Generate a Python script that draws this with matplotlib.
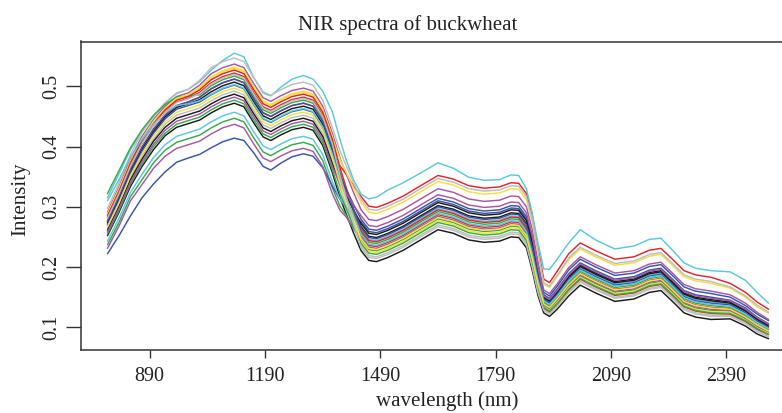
import matplotlib
matplotlib.use("Agg")
import matplotlib.pyplot as plt

plt.rcParams['font.family'] = ['Liberation Serif', 'DejaVu Serif']

wavelength = [780, 810, 840, 870, 900, 930, 960, 990, 1020, 1050, 1080, 1110, 1135, 1160, 1185,
              1205, 1230, 1260, 1290, 1315, 1340, 1365, 1385, 1400, 1420, 1440, 1460, 1480, 1510,
              1550, 1600, 1640, 1680, 1720, 1760, 1800, 1830, 1850, 1870, 1885, 1900, 1915, 1930,
              1950, 1980, 2010, 2050, 2100, 2150, 2190, 2220, 2250, 2280, 2310, 2350, 2400, 2440,
              2470, 2500]

s01 = [0.252, 0.291, 0.334, 0.367, 0.395, 0.418, 0.432, 0.438, 0.444, 0.456, 0.466, 0.472, 0.466, 0.440, 0.416,
       0.410, 0.419, 0.428, 0.432, 0.427, 0.402, 0.357, 0.315, 0.290, 0.257, 0.227, 0.211, 0.209, 0.216,
       0.228, 0.247, 0.262, 0.256, 0.245, 0.241, 0.243, 0.250, 0.249, 0.232, 0.195, 0.153, 0.124, 0.118,
       0.130, 0.152, 0.170, 0.157, 0.143, 0.147, 0.158, 0.161, 0.143, 0.124, 0.117, 0.113, 0.114, 0.102,
       0.089, 0.081]
s02 = [0.276, 0.317, 0.362, 0.399, 0.429, 0.452, 0.468, 0.474, 0.482, 0.496, 0.506, 0.512, 0.506, 0.480, 0.456,
       0.450, 0.459, 0.468, 0.472, 0.467, 0.442, 0.397, 0.368, 0.355, 0.335, 0.317, 0.301, 0.299, 0.306,
       0.318, 0.337, 0.352, 0.346, 0.335, 0.331, 0.333, 0.340, 0.339, 0.322, 0.285, 0.233, 0.180, 0.174,
       0.193, 0.222, 0.240, 0.227, 0.213, 0.217, 0.228, 0.231, 0.213, 0.194, 0.187, 0.183, 0.173, 0.158,
       0.142, 0.130]
s03 = [0.237, 0.274, 0.317, 0.345, 0.373, 0.394, 0.407, 0.413, 0.419, 0.431, 0.441, 0.447, 0.441, 0.415, 0.391,
       0.385, 0.394, 0.403, 0.407, 0.402, 0.377, 0.332, 0.301, 0.287, 0.264, 0.245, 0.229, 0.227, 0.234,
       0.246, 0.265, 0.280, 0.274, 0.263, 0.259, 0.261, 0.268, 0.267, 0.250, 0.213, 0.169, 0.136, 0.130,
       0.143, 0.167, 0.185, 0.172, 0.158, 0.162, 0.173, 0.176, 0.158, 0.139, 0.132, 0.128, 0.127, 0.114,
       0.101, 0.091]
s04 = [0.222, 0.252, 0.285, 0.315, 0.338, 0.358, 0.374, 0.381, 0.387, 0.398, 0.408, 0.414, 0.410, 0.390, 0.367,
       0.361, 0.372, 0.383, 0.388, 0.384, 0.365, 0.335, 0.312, 0.300, 0.285, 0.275, 0.259, 0.257, 0.264,
       0.276, 0.295, 0.310, 0.304, 0.293, 0.289, 0.291, 0.298, 0.297, 0.280, 0.243, 0.198, 0.158, 0.152,
       0.168, 0.195, 0.213, 0.200, 0.186, 0.190, 0.201, 0.204, 0.186, 0.167, 0.160, 0.156, 0.150, 0.136,
       0.122, 0.111]
s05 = [0.315, 0.355, 0.395, 0.425, 0.450, 0.472, 0.488, 0.495, 0.508, 0.527, 0.543, 0.555, 0.549, 0.515, 0.489,
       0.484, 0.498, 0.512, 0.518, 0.512, 0.492, 0.458, 0.412, 0.380, 0.345, 0.321, 0.313, 0.316, 0.328,
       0.340, 0.358, 0.373, 0.364, 0.349, 0.344, 0.345, 0.353, 0.352, 0.330, 0.290, 0.240, 0.197, 0.196,
       0.213, 0.240, 0.262, 0.245, 0.230, 0.235, 0.246, 0.248, 0.228, 0.207, 0.198, 0.194, 0.192, 0.178,
       0.158, 0.140]
s06 = [0.291, 0.333, 0.380, 0.417, 0.445, 0.467, 0.483, 0.489, 0.502, 0.521, 0.531, 0.537, 0.531, 0.505, 0.481,
       0.475, 0.484, 0.493, 0.497, 0.492, 0.467, 0.422, 0.381, 0.357, 0.324, 0.295, 0.279, 0.277, 0.284,
       0.296, 0.315, 0.330, 0.324, 0.313, 0.309, 0.311, 0.318, 0.317, 0.300, 0.263, 0.210, 0.162, 0.156,
       0.172, 0.199, 0.217, 0.204, 0.190, 0.194, 0.205, 0.208, 0.190, 0.171, 0.164, 0.160, 0.154, 0.140,
       0.125, 0.113]
s07 = [0.287, 0.328, 0.375, 0.412, 0.440, 0.463, 0.479, 0.485, 0.496, 0.514, 0.524, 0.530, 0.524, 0.498, 0.474,
       0.468, 0.477, 0.486, 0.490, 0.485, 0.460, 0.415, 0.379, 0.359, 0.332, 0.307, 0.291, 0.289, 0.296,
       0.308, 0.327, 0.342, 0.336, 0.325, 0.321, 0.323, 0.330, 0.329, 0.312, 0.275, 0.223, 0.172, 0.166,
       0.184, 0.212, 0.230, 0.217, 0.203, 0.207, 0.218, 0.221, 0.203, 0.184, 0.177, 0.173, 0.165, 0.150,
       0.134, 0.123]
s08 = [0.297, 0.339, 0.387, 0.424, 0.451, 0.473, 0.489, 0.495, 0.510, 0.531, 0.541, 0.547, 0.541, 0.515, 0.491,
       0.485, 0.494, 0.503, 0.507, 0.502, 0.477, 0.432, 0.393, 0.370, 0.340, 0.312, 0.296, 0.294, 0.301,
       0.313, 0.332, 0.347, 0.341, 0.330, 0.326, 0.328, 0.335, 0.334, 0.317, 0.280, 0.227, 0.174, 0.168,
       0.186, 0.215, 0.233, 0.220, 0.206, 0.210, 0.221, 0.224, 0.206, 0.187, 0.180, 0.176, 0.167, 0.152,
       0.137, 0.125]
s09 = [0.273, 0.313, 0.359, 0.396, 0.425, 0.449, 0.465, 0.471, 0.478, 0.491, 0.501, 0.507, 0.501, 0.475, 0.451,
       0.445, 0.454, 0.463, 0.467, 0.462, 0.437, 0.392, 0.351, 0.328, 0.296, 0.267, 0.251, 0.249, 0.256,
       0.268, 0.287, 0.302, 0.296, 0.285, 0.281, 0.283, 0.290, 0.289, 0.272, 0.235, 0.189, 0.150, 0.144,
       0.159, 0.185, 0.203, 0.190, 0.176, 0.180, 0.191, 0.194, 0.176, 0.157, 0.150, 0.146, 0.142, 0.128,
       0.114, 0.104]
s10 = [0.282, 0.323, 0.369, 0.406, 0.435, 0.458, 0.474, 0.480, 0.490, 0.506, 0.516, 0.522, 0.516, 0.490, 0.466,
       0.460, 0.469, 0.478, 0.482, 0.477, 0.452, 0.407, 0.359, 0.328, 0.288, 0.252, 0.236, 0.234, 0.241,
       0.253, 0.272, 0.287, 0.281, 0.270, 0.266, 0.268, 0.275, 0.274, 0.257, 0.220, 0.175, 0.140, 0.134,
       0.148, 0.172, 0.190, 0.177, 0.163, 0.167, 0.178, 0.181, 0.163, 0.144, 0.137, 0.133, 0.131, 0.118,
       0.104, 0.095]
s11 = [0.322, 0.360, 0.398, 0.428, 0.452, 0.470, 0.482, 0.484, 0.486, 0.501, 0.511, 0.517, 0.511, 0.485, 0.461,
       0.455, 0.464, 0.473, 0.477, 0.472, 0.447, 0.402, 0.356, 0.328, 0.291, 0.257, 0.241, 0.239, 0.246,
       0.258, 0.277, 0.292, 0.286, 0.275, 0.271, 0.273, 0.280, 0.279, 0.262, 0.225, 0.179, 0.142, 0.136,
       0.150, 0.175, 0.193, 0.180, 0.166, 0.170, 0.181, 0.184, 0.166, 0.147, 0.140, 0.136, 0.133, 0.120,
       0.107, 0.097]
s12 = [0.270, 0.310, 0.355, 0.392, 0.422, 0.446, 0.462, 0.468, 0.474, 0.486, 0.496, 0.502, 0.496, 0.470, 0.446,
       0.440, 0.449, 0.458, 0.462, 0.457, 0.432, 0.387, 0.351, 0.331, 0.304, 0.279, 0.263, 0.261, 0.268,
       0.280, 0.299, 0.314, 0.308, 0.297, 0.293, 0.295, 0.302, 0.301, 0.284, 0.247, 0.197, 0.154, 0.148,
       0.163, 0.189, 0.207, 0.194, 0.180, 0.184, 0.195, 0.198, 0.180, 0.161, 0.154, 0.150, 0.145, 0.132,
       0.117, 0.106]
s13 = [0.243, 0.281, 0.324, 0.354, 0.382, 0.403, 0.417, 0.423, 0.429, 0.441, 0.451, 0.457, 0.451, 0.425, 0.401,
       0.395, 0.404, 0.413, 0.417, 0.412, 0.387, 0.342, 0.313, 0.300, 0.280, 0.262, 0.246, 0.244, 0.251,
       0.263, 0.282, 0.297, 0.291, 0.280, 0.276, 0.278, 0.285, 0.284, 0.267, 0.230, 0.185, 0.147, 0.141,
       0.156, 0.181, 0.199, 0.186, 0.172, 0.176, 0.187, 0.190, 0.172, 0.153, 0.146, 0.142, 0.138, 0.125,
       0.111, 0.101]
s14 = [0.231, 0.268, 0.310, 0.337, 0.364, 0.384, 0.397, 0.403, 0.409, 0.421, 0.431, 0.437, 0.431, 0.405, 0.381,
       0.375, 0.384, 0.393, 0.397, 0.392, 0.367, 0.322, 0.294, 0.284, 0.265, 0.249, 0.233, 0.231, 0.238,
       0.250, 0.269, 0.284, 0.278, 0.267, 0.263, 0.265, 0.272, 0.271, 0.254, 0.217, 0.172, 0.138, 0.132,
       0.145, 0.169, 0.187, 0.174, 0.160, 0.164, 0.175, 0.178, 0.160, 0.141, 0.134, 0.130, 0.128, 0.116,
       0.102, 0.092]
s15 = [0.288, 0.330, 0.376, 0.413, 0.442, 0.464, 0.480, 0.486, 0.498, 0.516, 0.526, 0.532, 0.526, 0.500, 0.476,
       0.470, 0.479, 0.488, 0.492, 0.487, 0.462, 0.417, 0.364, 0.328, 0.283, 0.242, 0.226, 0.224, 0.231,
       0.243, 0.262, 0.277, 0.271, 0.260, 0.256, 0.258, 0.265, 0.264, 0.247, 0.210, 0.167, 0.134, 0.128,
       0.141, 0.165, 0.183, 0.170, 0.156, 0.160, 0.171, 0.174, 0.156, 0.137, 0.130, 0.126, 0.125, 0.112,
       0.099, 0.090]
s16 = [0.264, 0.304, 0.348, 0.384, 0.413, 0.437, 0.452, 0.458, 0.464, 0.476, 0.486, 0.492, 0.486, 0.460, 0.436,
       0.430, 0.439, 0.448, 0.452, 0.447, 0.422, 0.377, 0.332, 0.304, 0.268, 0.235, 0.219, 0.217, 0.224,
       0.236, 0.255, 0.270, 0.264, 0.253, 0.249, 0.251, 0.258, 0.257, 0.240, 0.203, 0.160, 0.130, 0.124,
       0.136, 0.159, 0.177, 0.164, 0.150, 0.154, 0.165, 0.168, 0.150, 0.131, 0.124, 0.120, 0.120, 0.108,
       0.095, 0.085]
s17 = [0.261, 0.300, 0.345, 0.379, 0.409, 0.432, 0.447, 0.453, 0.459, 0.471, 0.481, 0.487, 0.481, 0.455, 0.431,
       0.425, 0.434, 0.443, 0.447, 0.442, 0.417, 0.372, 0.338, 0.320, 0.295, 0.272, 0.256, 0.254, 0.261,
       0.273, 0.292, 0.307, 0.301, 0.290, 0.286, 0.288, 0.295, 0.294, 0.277, 0.240, 0.191, 0.149, 0.143,
       0.157, 0.183, 0.201, 0.188, 0.174, 0.178, 0.189, 0.192, 0.174, 0.155, 0.148, 0.144, 0.140, 0.127,
       0.113, 0.102]
s18 = [0.285, 0.326, 0.373, 0.410, 0.438, 0.461, 0.477, 0.483, 0.494, 0.511, 0.521, 0.527, 0.521, 0.495, 0.471,
       0.465, 0.474, 0.483, 0.487, 0.482, 0.457, 0.412, 0.365, 0.334, 0.296, 0.260, 0.244, 0.242, 0.249,
       0.261, 0.280, 0.295, 0.289, 0.278, 0.274, 0.276, 0.283, 0.282, 0.265, 0.228, 0.174, 0.132, 0.126,
       0.139, 0.162, 0.180, 0.167, 0.153, 0.157, 0.168, 0.171, 0.153, 0.134, 0.127, 0.123, 0.122, 0.110,
       0.097, 0.088]
s19 = [0.255, 0.294, 0.338, 0.371, 0.400, 0.422, 0.437, 0.443, 0.449, 0.461, 0.471, 0.477, 0.471, 0.445, 0.421,
       0.415, 0.424, 0.433, 0.437, 0.432, 0.407, 0.362, 0.322, 0.299, 0.267, 0.239, 0.223, 0.221, 0.228,
       0.240, 0.259, 0.274, 0.268, 0.257, 0.253, 0.255, 0.262, 0.261, 0.244, 0.207, 0.164, 0.133, 0.127,
       0.139, 0.163, 0.181, 0.168, 0.154, 0.158, 0.169, 0.172, 0.154, 0.135, 0.128, 0.124, 0.123, 0.111,
       0.098, 0.088]
s20 = [0.276, 0.317, 0.362, 0.399, 0.429, 0.452, 0.468, 0.474, 0.482, 0.496, 0.506, 0.512, 0.506, 0.480, 0.456,
       0.450, 0.459, 0.468, 0.472, 0.467, 0.442, 0.397, 0.355, 0.329, 0.296, 0.265, 0.249, 0.247, 0.254,
       0.266, 0.285, 0.300, 0.294, 0.283, 0.279, 0.281, 0.288, 0.287, 0.270, 0.233, 0.185, 0.146, 0.140,
       0.154, 0.179, 0.197, 0.184, 0.170, 0.174, 0.185, 0.188, 0.170, 0.151, 0.144, 0.140, 0.137, 0.124,
       0.110, 0.099]
s21 = [0.310, 0.345, 0.382, 0.412, 0.437, 0.456, 0.468, 0.471, 0.476, 0.487, 0.497, 0.503, 0.497, 0.471, 0.447,
       0.441, 0.450, 0.459, 0.463, 0.458, 0.433, 0.388, 0.344, 0.318, 0.285, 0.254, 0.238, 0.236, 0.243,
       0.255, 0.274, 0.289, 0.283, 0.272, 0.268, 0.270, 0.277, 0.276, 0.259, 0.222, 0.178, 0.144, 0.138,
       0.152, 0.177, 0.195, 0.182, 0.168, 0.172, 0.183, 0.186, 0.168, 0.149, 0.142, 0.138, 0.135, 0.122,
       0.108, 0.098]
s22 = [0.258, 0.297, 0.341, 0.375, 0.404, 0.427, 0.442, 0.448, 0.454, 0.466, 0.476, 0.482, 0.476, 0.450, 0.426,
       0.420, 0.429, 0.438, 0.442, 0.437, 0.412, 0.367, 0.337, 0.324, 0.303, 0.285, 0.269, 0.267, 0.274,
       0.286, 0.305, 0.320, 0.314, 0.303, 0.299, 0.301, 0.308, 0.307, 0.290, 0.253, 0.199, 0.152, 0.146,
       0.161, 0.187, 0.205, 0.192, 0.178, 0.182, 0.193, 0.196, 0.178, 0.159, 0.152, 0.148, 0.144, 0.130,
       0.116, 0.105]
s23 = [0.267, 0.307, 0.352, 0.388, 0.418, 0.441, 0.457, 0.463, 0.469, 0.481, 0.491, 0.497, 0.491, 0.465, 0.441,
       0.435, 0.444, 0.453, 0.457, 0.452, 0.427, 0.382, 0.339, 0.313, 0.278, 0.247, 0.231, 0.229, 0.236,
       0.248, 0.267, 0.282, 0.276, 0.265, 0.261, 0.263, 0.270, 0.269, 0.252, 0.215, 0.172, 0.139, 0.133,
       0.147, 0.171, 0.189, 0.176, 0.162, 0.166, 0.177, 0.180, 0.162, 0.143, 0.136, 0.132, 0.130, 0.117,
       0.104, 0.094]
s24 = [0.281, 0.322, 0.368, 0.405, 0.434, 0.457, 0.473, 0.479, 0.488, 0.504, 0.514, 0.520, 0.514, 0.488, 0.464,
       0.458, 0.467, 0.476, 0.480, 0.475, 0.450, 0.405, 0.352, 0.317, 0.273, 0.232, 0.216, 0.214, 0.221,
       0.233, 0.252, 0.267, 0.261, 0.250, 0.246, 0.248, 0.255, 0.254, 0.237, 0.200, 0.158, 0.128, 0.122,
       0.134, 0.157, 0.175, 0.162, 0.148, 0.152, 0.163, 0.166, 0.148, 0.129, 0.122, 0.118, 0.118, 0.106,
       0.093, 0.084]

spectra = [s01, s02, s03, s04, s05, s06, s07, s08, s09, s10, s11, s12,
           s13, s14, s15, s16, s17, s18, s19, s20, s21, s22, s23, s24]

palette = ["#1a1a1a", "#e3242b", "#3aaa48", "#3b54a5", "#5bc8dc", "#a657a8", "#f2e13c", "#bdbdbd"]

x_ticks = [890, 1190, 1490, 1790, 2090, 2390]
y_ticks = [0.1, 0.2, 0.3, 0.4, 0.5]

W, H = 782, 413
fig = plt.figure(figsize=(W / 100, H / 100), dpi=100)
ax = fig.add_axes([81 / W, 1 - 350 / H, (795 - 81) / W, (350 - 41.5) / H])

for i, s in enumerate(spectra):
    ax.plot(wavelength, s, color=palette[i % len(palette)], lw=1.05,
            solid_joinstyle='round', solid_capstyle='round')

ax.set_xlim(711.2, 2568.8)
ax.set_ylim(0.0623, 0.5744)
ax.set_xticks(x_ticks)
ax.set_xticklabels([str(v) for v in x_ticks])
ax.set_yticks(y_ticks)
ax.set_yticklabels([f"{v:.1f}" for v in y_ticks], rotation=90, va='center')

for sp in ax.spines.values():
    sp.set_color("#333333")
    sp.set_linewidth(1.1)
ax.tick_params(axis='x', length=6, width=1.0, color="#333333", pad=6, labelsize=14.5, labelcolor="#222222")
ax.tick_params(axis='y', length=11, width=1.0, color="#333333", pad=3, labelsize=14.5, labelcolor="#222222")

fig.text(407.5 / W, 1 - 30 / H, "NIR spectra of buckwheat", ha='center', va='baseline',
         fontsize=15, color="#222222")
fig.text(447.5 / W, 1 - 406 / H, "wavelength (nm)", ha='center', va='baseline',
         fontsize=15, color="#222222")
fig.text(20.5 / W, 1 - 199 / H, "Intensity", ha='center', va='center', rotation=90,
         fontsize=15, color="#222222")

fig.savefig("out.png", dpi=100)
